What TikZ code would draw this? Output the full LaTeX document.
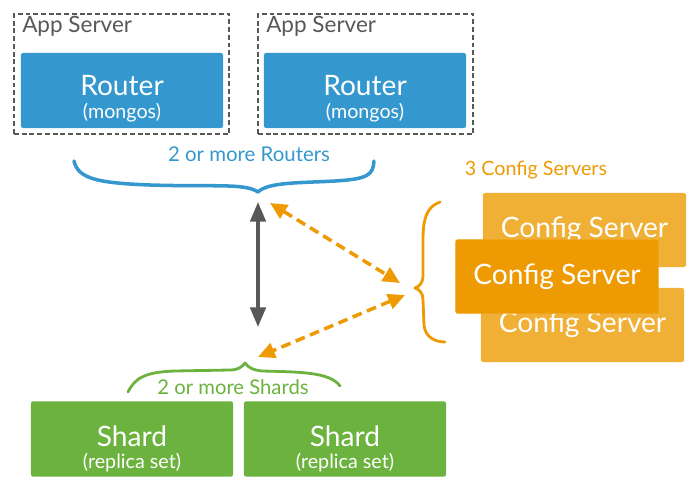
\documentclass[tikz,border=0pt]{standalone}
\usepackage{fontspec}
\setmainfont{Lato}
\usetikzlibrary{arrows.meta}
\definecolor{mblue}{RGB}{52,152,206}
\definecolor{mgreen}{RGB}{108,178,62}
\definecolor{corange}{RGB}{238,154,2}
\definecolor{cback}{RGB}{240,176,54}
\definecolor{dgray}{RGB}{88,88,88}
\tikzstyle{appbox} = [rectangle, minimum width=5.375cm, minimum height=3cm, draw=dgray, line width=1pt, dash pattern=on 3.5pt off 2pt]
\tikzstyle{apptext} = [anchor=base west, inner sep=0pt, dgray, font=\fontsize{16}{16}\selectfont]
\tikzstyle{router} = [rectangle, rounded corners=1.5pt, minimum width=5.05cm, minimum height=1.875cm, fill=mblue, text=white, align=center]
\tikzstyle{config} = [rectangle, rounded corners=1.5pt, minimum width=5.075cm, minimum height=1.85cm, fill=cback, text=white, font=\fontsize{20}{20}\selectfont]
\tikzstyle{cfront} = [config, fill=corange, draw=cback, densely dotted, thin]
\tikzstyle{shard} = [rectangle, rounded corners=1.5pt, minimum width=5.05cm, minimum height=1.85cm, fill=mgreen, text=white, align=center]
\tikzstyle{brace} = [line width=2pt, line cap=round, line join=round]
\tikzstyle{arrow} = [line width=2.5pt, dgray, {Triangle[length=14pt,width=11pt]}-{Triangle[length=14pt,width=11pt]}]
\tikzstyle{oarrow} = [line width=2.5pt, corange, dash pattern=on 7pt off 4pt, {Triangle[length=12pt,width=11pt]}-{Triangle[length=12pt,width=11pt]}]
% two line box text: strut height, top text, gap, bottom text
\newcommand{\boxtxt}[4]{{\fontsize{20}{20}\selectfont\rule{0pt}{#1}#2}\\[#3]{\fontsize{14}{14}\selectfont #4}}

\begin{document}
\begin{tikzpicture}[x=0.025cm, y=-0.025cm]
\useasboundingbox (0,0) rectangle (697,484);

% app servers and routers
\node (app1) [appbox] at (121.5,74) {};
\node (app2) [appbox] at (365.5,74) {};
\node (a1text) [apptext] at (22,33) {App Server};
\node (a2text) [apptext] at (266,33) {App Server};
\node (r1) [router] at (122,90.5) {\boxtxt{26pt}{Router}{4.5pt}{(mongos)}};
\node (r2) [router] at (365,90.5) {\boxtxt{26pt}{Router}{4.5pt}{(mongos)}};

\node (rtext) [anchor=base, mblue, font=\fontsize{14.5}{14.5}\selectfont] at (249,162) {2 or more Routers};
\draw [brace, mblue, line width=2.5pt] (74,161) .. controls (78,178) and (95,183) .. (150,185) .. controls (215,187) and (245,183) .. (258,192) .. controls (268,182) and (300,183) .. (335,181) .. controls (368,179) and (373,175) .. (374,161);

% config servers
\node (ctext) [anchor=base, corange, font=\fontsize{14}{14}\selectfont] at (536,176) {3 Config Servers};
\node (c1) [config] at (584.5,230) {Config Server};
\node (c3) [config] at (582.5,325) {Config Server};
\node (c2) [cfront] at (557,276.5) {Config Server};
\draw [brace, corange] (440,202) .. controls (426,207) and (423,220) .. (423,240) -- (423,275) .. controls (423,283) and (420,286) .. (415,288) .. controls (420,290) and (423,293) .. (423,300) -- (424,325) .. controls (425,337) and (435,342) .. (445,342);

% shards
\node (stext) [anchor=base, mgreen, font=\fontsize{14.4}{14.4}\selectfont] at (233,395) {2 or more Shards};
\draw [brace, mgreen] (128,392) .. controls (135,378) and (145,372) .. (175,371) -- (230,370) .. controls (238,370) and (242,367) .. (245,363) .. controls (248,367) and (252,370) .. (262,371) .. controls (300,372) and (330,372) .. (340,386);
\node (s1) [shard] at (132,439) {\boxtxt{29pt}{Shard}{3.5pt}{(replica set)}};
\node (s2) [shard] at (345,439) {\boxtxt{29pt}{Shard}{3.5pt}{(replica set)}};

% connections
\coordinate (rtip) at (258,202);
\coordinate (stip) at (258,327);
\coordinate (ra) at (270,203);
\coordinate (ca) at (400,283);
\coordinate (cb) at (405,295);
\coordinate (sb) at (258,357);
\draw [arrow] (rtip) -- (stip);
\draw [oarrow] (ra) -- (ca);
\draw [oarrow] (cb) -- (sb);
\end{tikzpicture}
\end{document}
